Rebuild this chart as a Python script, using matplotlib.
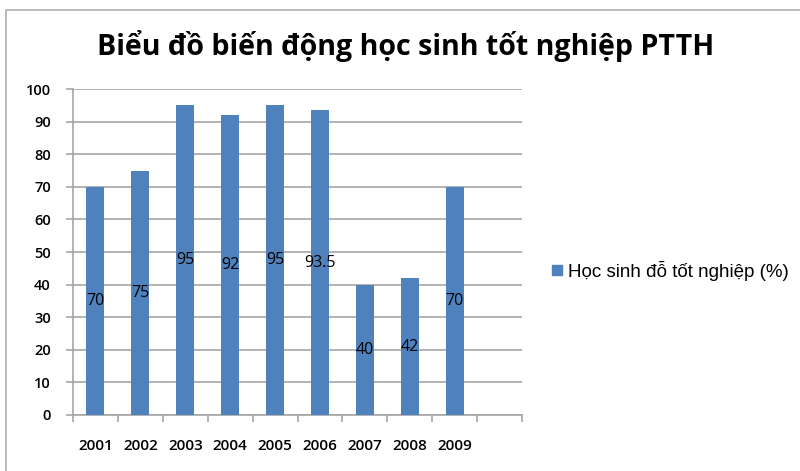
import matplotlib
matplotlib.use("Agg")
import matplotlib.pyplot as plt
from matplotlib.patches import Rectangle
from matplotlib.lines import Line2D

years = ["2001", "2002", "2003", "2004", "2005", "2006", "2007", "2008", "2009"]
values = [70, 75, 95, 92, 95, 93.5, 40, 42, 70]
value_labels = ["70", "75", "95", "92", "95", "93.5", "40", "42", "70"]
series_name = "Học sinh đỗ tốt nghiệp (%)"
title = "Biểu đồ biến động học sinh tốt nghiệp PTTH"
yticks = list(range(0, 101, 10))

bar_color = "#4F81BD"
grid_color = "#a6a6a6"

fig = plt.figure(figsize=(8.0, 4.71), dpi=100)
fig.patch.set_facecolor("white")

# outer chart frame
fig.add_artist(Rectangle((6 / 800, -0.05), 1.2, (471 - 10) / 471 + 0.05,
                         transform=fig.transFigure, fill=False,
                         edgecolor="#b4b4b4", linewidth=1.3))

ax = fig.add_axes([73 / 800, (471 - 415) / 471, (522 - 73) / 800, (415 - 89) / 471])

n_slots = len(years) + 1
positions = list(range(len(years)))
ax.bar(positions, values, width=0.4, color=bar_color, zorder=3)

for x, v, lab in zip(positions, values, value_labels):
    ax.text(x, v / 2, lab, ha="center", va="center", fontsize=11.5,
            family="Open Sans", color="black", zorder=4)

ax.set_xlim(-0.5, n_slots - 0.5)
ax.set_ylim(0, 100)
ax.set_yticks(yticks)
ax.set_yticklabels([str(t) for t in yticks], fontsize=10.5, family="Open Sans",
                   fontweight="semibold")
ax.yaxis.grid(True, color=grid_color, linewidth=1.2, zorder=0)
ax.set_axisbelow(True)

ax.set_xticks(positions)
ax.set_xticklabels(years, fontsize=11, family="Open Sans", fontweight="semibold")
ax.tick_params(axis="x", length=0, pad=17)
# category boundary ticks
ax.set_xticks([i - 0.5 for i in range(n_slots + 1)], minor=True)
ax.tick_params(axis="x", which="minor", length=5, color=grid_color, width=1.2)
ax.tick_params(axis="y", length=5, color=grid_color, width=1.2, pad=11)

for side in ["top", "right"]:
    ax.spines[side].set_visible(False)
for side in ["left", "bottom"]:
    ax.spines[side].set_color(grid_color)
    ax.spines[side].set_linewidth(1.2)

fig.text(406 / 800, 1 - 46 / 471, title, ha="center", va="center",
         fontsize=20.6, fontweight="bold", family="Open Sans")

handle = Line2D([], [], marker="s", linestyle="none", markersize=7.5,
                markerfacecolor=bar_color, markeredgecolor=bar_color)
fig.legend([handle], [series_name], loc="center left",
           bbox_to_anchor=(538 / 800, 1 - 271 / 471), frameon=False,
           prop={"family": "Liberation Sans", "size": 13.5},
           handletextpad=0.0, handlelength=1.2, borderaxespad=0)

fig.savefig("out.png", dpi=100, facecolor="white")
